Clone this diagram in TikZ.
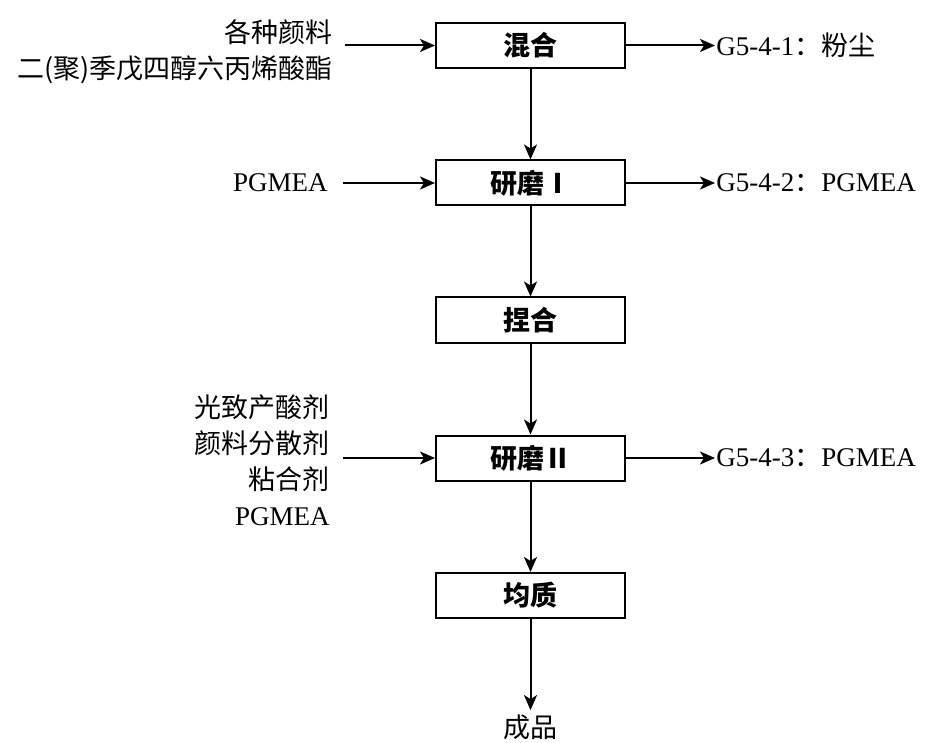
\documentclass[tikz,border=0pt]{standalone}
\usepackage{fontspec}
\setmainfont{Liberation Serif}
\newfontfamily\cjk{Noto Sans CJK SC}
\usetikzlibrary{arrows.meta}
\begin{document}
\begin{tikzpicture}[x=0.5pt,y=-0.5pt,
  font=\fontsize{13.5}{18}\selectfont,
  procbox/.style={draw,line width=1pt,minimum width=94.5pt,minimum height=22.5pt,inner sep=0pt,
    font=\cjk\bfseries\fontsize{13.5}{16}\selectfont},
  flow/.style={line width=1pt,-{Stealth[length=7.5pt,width=6.5pt,inset=2pt]}},
  lbl/.style={inner ysep=0pt,inner xsep=0pt}]
\useasboundingbox (0,0) rectangle (926,743);

\node[procbox] (m1) at (530.5,45.5) {混合};
\node[procbox] (m2) at (530.5,183) {研磨Ⅰ};
\node[procbox] (m3) at (530.5,320) {捏合};
\node[procbox] (m4) at (530.5,458) {研磨Ⅱ};
\node[procbox] (m5) at (530.5,595.5) {均质};

% inputs
\node[lbl,inner xsep=6pt,anchor=east,align=right] (in1) at (345,51.5)
  {\cjk 各种颜料\\\cjk 二(聚)季戊四醇六丙烯酸酯};
\node[lbl,inner xsep=7.5pt,anchor=east] (in2) at (343,183) {PGMEA};
\node[lbl,inner xsep=6.5pt,anchor=east,align=right] (in4) at (343,460)
  {\cjk 光致产酸剂\\\cjk 颜料分散剂\\\cjk 粘合剂\\PGMEA};

% outputs
\node[lbl,inner xsep=0.5pt,anchor=west] (out1) at (715,45.5) {G5-4-1{\cjk ：粉尘}};
\node[lbl,inner xsep=0.5pt,anchor=west] (out2) at (715,183) {G5-4-2{\cjk ：}PGMEA};
\node[lbl,inner xsep=0.5pt,anchor=west] (out4) at (715,458) {G5-4-3{\cjk ：}PGMEA};
\node[lbl,inner ysep=2pt,font=\cjk\fontsize{13.5}{16}\selectfont] (prod) at (530.5,727) {成品};

\draw[flow] (in1.east |- m1.west) -- (m1.west);
\draw[flow] (in2.east) -- (m2.west);
\draw[flow] (in4.east |- m4.west) -- (m4.west);

\draw[flow] (m1.east) -- (out1.west);
\draw[flow] (m2.east) -- (out2.west);
\draw[flow] (m4.east) -- (out4.west);

\draw[flow] (m1) -- (m2);
\draw[flow] (m2) -- (m3);
\draw[flow] (m3) -- (m4);
\draw[flow] (m4) -- (m5);
\draw[flow] (m5.south) -- (prod.north);
\end{tikzpicture}
\end{document}
